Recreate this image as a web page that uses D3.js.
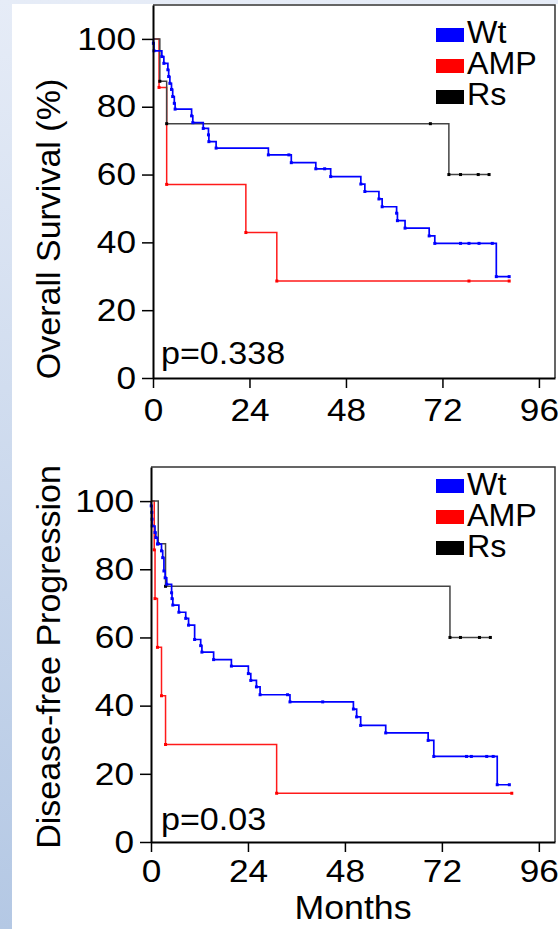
<!DOCTYPE html>
<html lang="en">
<head>
<meta charset="utf-8">
<title>Kaplan-Meier: overall survival and disease-free progression</title>
<script src="https://cdn.jsdelivr.net/npm/d3@7"></script>
<style>
  body { margin: 0; }
  text { font-family: "Liberation Sans", Arial, sans-serif; fill: #000; }
</style>
</head>
<body>
<script>

// groups shown in both legends
var groups = ["Wt", "AMP", "Rs"];
var groupColors = ["#0000ff", "#ff0000", "#000000"];
var lineColors = ["#0000ff", "#ff1a1a", "#444444"];

var monthTicks = [0, 24, 48, 72, 96];
var pctTicks = [0, 20, 40, 60, 80, 100];

// Overall survival: [month, % surviving] after each death, then censored cases
var osWt = [[0, 100], [0.1, 98.7], [0.25, 96.5], [2.2, 94.8], [2.7, 92.8], [3.7, 90.9], [3.9, 88.9],
  [4.2, 86.9], [4.6, 85.1], [4.9, 83], [5.3, 81], [5.5, 79.3], [9.6, 77.3], [9.9, 75.3],
  [12.5, 73.6], [13.8, 71.7], [13.9, 69.7], [15.7, 67.8], [28.7, 65.8], [34.4, 63.5],
  [40.5, 61.7], [44.2, 59.4], [51.7, 57.2], [52.7, 55], [56.2, 52.8], [57, 50.5], [60.6, 48.6],
  [60.8, 46.4], [62.7, 44.2], [68.7, 41.9], [70.1, 39.7], [85.4, 29.9]];
var osWtCensored = [[33.8, 65.8], [42.7, 61.7], [76.5, 39.7], [78.6, 39.7], [81.1, 39.7], [84.4, 39.7], [88.6, 29.9]];
var osAmp = [[0, 100], [1.5, 85.7], [3.4, 57.1], [23.1, 42.9], [30.8, 28.6]];
var osAmpCensored = [[78.6, 28.6], [88.6, 28.6]];
var osRs = [[0, 100], [1.7, 87.5], [3.4, 75], [73.6, 60]];
var osRsCensored = [[69, 75], [76.5, 60], [80.9, 60], [83.6, 60]];

// Disease-free progression
var dfsWt = [[0, 100], [0.05, 98.6], [0.2, 96.7], [0.25, 94.7], [0.3, 92.7], [1.0, 90.8], [1.2, 89.3],
  [1.6, 87.4], [2.6, 85.4], [2.9, 83.4], [3.2, 79.5], [3.5, 77.5], [3.9, 75.6], [5.1, 73.1],
  [5.2, 71.4], [5.4, 69.5], [6.9, 67.4], [8.6, 65.6], [9.3, 63.6], [10.8, 59.4], [12.3, 57.6],
  [12.6, 55.7], [15.5, 53.5], [19.9, 51.6], [24.1, 49.4], [24.7, 47.4], [26.1, 45.5], [27, 43.2],
  [34.4, 41.1], [50.1, 39], [50.9, 36.7], [51.9, 34.2], [58.1, 32], [68.6, 29.8], [70, 25.1],
  [85.7, 16.8]];
var dfsWtCensored = [[33.8, 43.2], [42.5, 41.1], [78.1, 25.1], [79.3, 25.1], [83.1, 25.1], [84.7, 25.1], [88.7, 16.8]];
var dfsAmp = [[0, 100], [0.8, 85.7], [1.0, 71.4], [1.6, 57.1], [2.6, 42.9], [3.6, 28.6], [31.1, 14.3]];
var dfsAmpCensored = [[89.3, 14.3]];
var dfsRs = [[0, 100], [1.8, 87.5], [3.6, 75], [74, 60]];
var dfsRsCensored = [[76.6, 60], [81.3, 60], [84, 60]];

var w = 558, h = 929;
var fontStretch = 1.1;   // the source lettering is a little wider than Arial

var svg = d3.select("body").append("svg")
  .attr("width", w)
  .attr("height", h);

// pale blue slide background behind a white panel
var grad = svg.append("defs").append("linearGradient")
  .attr("id", "bg").attr("x1", 0).attr("y1", 0).attr("x2", 0).attr("y2", 1);
grad.append("stop").attr("offset", "0%").attr("stop-color", "#e6ecf7");
grad.append("stop").attr("offset", "100%").attr("stop-color", "#b4c8e4");
svg.append("rect").attr("width", w).attr("height", h).attr("fill", "url(#bg)");
svg.append("rect").attr("x", 12).attr("y", 4).attr("width", w - 12).attr("height", h - 4).attr("fill", "#fff");

var panels = [
  { left: 153, right: 555, top: 5, bottom: 378, title: "Overall Survival (%)", titleY: 229,
    pText: "p=0.338", pY: 364, tickPad: 10, legendTop: 28, legendBase: 43, legendStep: 31,
    series: [[osAmp, osAmpCensored, 1], [osRs, osRsCensored, 2], [osWt, osWtCensored, 0]] },
  { left: 151, right: 555, top: 467, bottom: 842, title: "Disease-free Progression", titleY: 657,
    pText: "p=0.03", pY: 830, tickPad: 7, legendTop: 479, legendBase: 495, legendStep: 31,
    series: [[dfsAmp, dfsAmpCensored, 1], [dfsRs, dfsRsCensored, 2], [dfsWt, dfsWtCensored, 0]] }
];

var stepLine = d3.line().curve(d3.curveStepAfter);

panels.forEach(function(p) {
  var x = d3.scaleLinear().domain([0, 100]).range([p.left, p.right]);
  var y = d3.scaleLinear().domain([0, 110]).range([p.bottom, p.top]);
  var g = svg.append("g");

  // thin frame on top and right
  g.append("path")
    .attr("d", "M" + p.left + "," + p.top + "H" + p.right + "V" + p.bottom)
    .attr("fill", "none")
    .attr("stroke", "#333")
    .attr("stroke-width", 1.5);

  // survival curves
  p.series.forEach(function(s) {
    var events = s[0], cens = s[1], k = s[2];
    var pts = events.concat(cens).sort(function(a, b) { return a[0] - b[0]; });
    g.append("path")
      .attr("d", stepLine(pts.map(function(d) { return [x(d[0]), y(d[1])]; })))
      .attr("fill", "none")
      .attr("stroke", lineColors[k])
      .attr("stroke-width", k == 0 ? 1.7 : 1.5);
    g.selectAll(null)
      .data(pts.slice(1))
      .enter()
      .append("rect")
      .attr("x", function(d) { return x(d[0]) - 1.5; })
      .attr("y", function(d) { return y(d[1]) - 1.5; })
      .attr("width", 3)
      .attr("height", 3)
      .attr("fill", groupColors[k]);
  });

  // axes
  var xAxis = g.append("g")
    .attr("transform", "translate(0," + p.bottom + ")")
    .call(d3.axisBottom(x).tickValues(monthTicks).tickSize(10).tickSizeOuter(0).tickPadding(p.tickPad));
  var yAxis = g.append("g")
    .attr("transform", "translate(" + p.left + ",0)")
    .call(d3.axisLeft(y).tickValues(pctTicks).tickSize(11).tickSizeOuter(0).tickPadding(6));

  [xAxis, yAxis].forEach(function(a) {
    a.select(".domain").attr("stroke", "#000").attr("stroke-width", 2);
    a.selectAll(".tick line").attr("stroke", "#000").attr("stroke-width", 1.5);
    a.selectAll("text").attr("font-family", null).attr("font-size", 32).attr("fill", "#000");
  });
  xAxis.selectAll("text").attr("transform", "scale(" + fontStretch + ",1)");
  yAxis.selectAll("text")
    .attr("x", -17 / fontStretch)
    .attr("transform", "scale(" + fontStretch + ",1)");

  // axis title
  g.append("text")
    .attr("transform", "translate(60," + p.titleY + ") rotate(-90)")
    .attr("text-anchor", "middle")
    .attr("font-size", 34)
    .text(p.title);

  // p value
  g.append("text")
    .attr("transform", "translate(161," + p.pY + ") scale(" + fontStretch + ",1)")
    .attr("font-size", 31)
    .text(p.pText);

  // legend
  groups.forEach(function(name, i) {
    g.append("rect")
      .attr("x", 436)
      .attr("y", p.legendTop + i * p.legendStep)
      .attr("width", 28)
      .attr("height", 14)
      .attr("fill", groupColors[i]);
    g.append("text")
      .attr("transform", "translate(467," + (p.legendBase + i * p.legendStep) + ") scale(1.04,1)")
      .attr("font-size", 31)
      .text(name);
  });
});

svg.append("text")
  .attr("transform", "translate(353,919) scale(1.05,1)")
  .attr("text-anchor", "middle")
  .attr("font-size", 34)
  .text("Months");

</script>
</body>
</html>
